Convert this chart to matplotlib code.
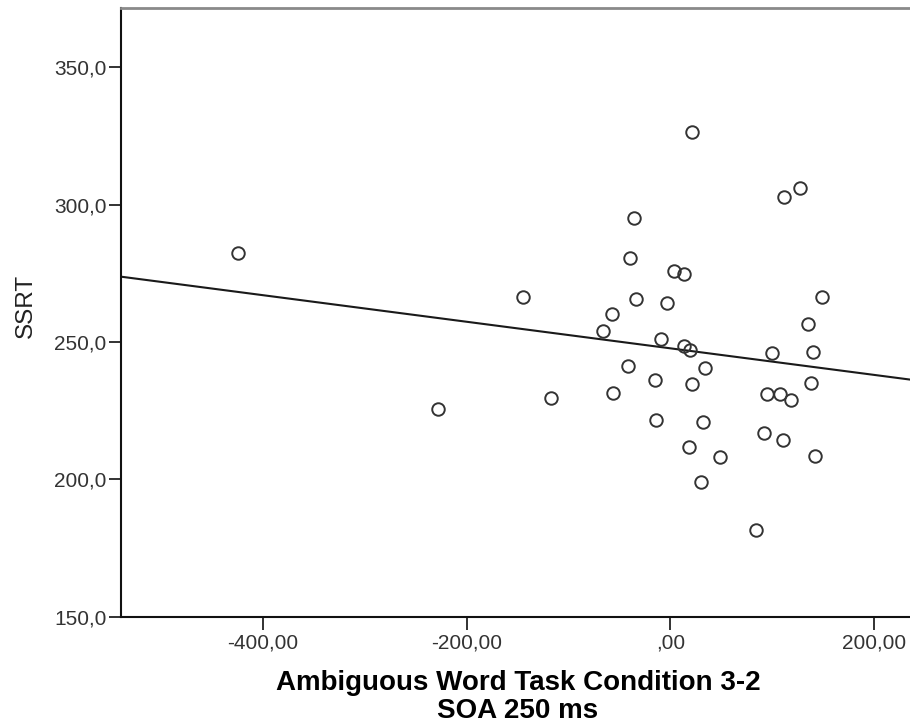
import numpy as np
import matplotlib
matplotlib.use('Agg')
import matplotlib.pyplot as plt

plt.rcParams["font.family"] = ["Liberation Sans", "DejaVu Sans"]

# data
ambig_diff = [-424.5, -228.5, -144.3, -117.5, -66.2, -57.3, -56.4, -41.6, -39.3, -35.7,
              -33.4, -14.7, -14.1, -8.8, -2.9, 3.2, 13.1, 13.4, 19.6, 21.6,
              21.2, 18.0, 34.0, 32.0, 30.4, 48.4, 83.8, 91.3, 94.6, 99.5,
              107.3, 110.6, 111.5, 118.1, 127.0, 134.5, 138.0, 140.0, 141.4, 148.3]
ssrt = [282.3, 225.6, 266.3, 229.5, 254.1, 260.1, 231.5, 241.3, 280.7, 295.2,
        265.7, 236.2, 221.6, 251.0, 264.1, 275.8, 274.6, 248.7, 247.1, 326.6,
        234.7, 211.7, 240.6, 221.0, 199.1, 208.2, 181.6, 216.8, 231.0, 245.9,
        231.1, 214.3, 302.9, 228.9, 306.0, 256.6, 234.9, 246.2, 208.6, 266.3]

# linear fit line as drawn (intercept, slope)
fit_b0 = 247.7
fit_b1 = -0.0484

xticks = [-400, -200, 0, 200]
xticklabels = ["-400,00", "-200,00", ",00", "200,00"]
yticks = [150, 200, 250, 300, 350]
yticklabels = ["150,0", "200,0", "250,0", "300,0", "350,0"]
xlims = (-539, 235)
ylims = (150, 371.6)

fig = plt.figure(figsize=(9.1, 7.26), dpi=100)
ax = fig.add_axes([121/910, 1-616.7/726, 1-121/910, (616.7-8)/726])

ax.plot(ambig_diff, ssrt, 'o', ms=9, mfc='none', mec='#333333', mew=1.4,
        linestyle='none', zorder=3)

xx = np.array(xlims)
ax.plot(xx, fit_b0 + fit_b1*xx, color='#1a1a1a', lw=1.5, zorder=2)

ax.set_xlim(*xlims)
ax.set_ylim(*ylims)
ax.set_xticks(xticks)
ax.set_xticklabels(xticklabels)
ax.set_yticks(yticks)
ax.set_yticklabels(yticklabels)
ax.tick_params(axis='both', direction='out', length=9, width=1.3,
               color='#222222', labelsize=15, labelcolor='#333333')
ax.tick_params(axis='y', pad=1.5)
ax.tick_params(axis='x', pad=3)

for s in ['left', 'bottom']:
    ax.spines[s].set_linewidth(1.5)
    ax.spines[s].set_color('#111111')
ax.spines['top'].set_color('#8a8a8a')
ax.spines['top'].set_linewidth(2)
ax.spines['right'].set_visible(False)

ax.set_ylabel("SSRT", fontsize=17.5, color='#222222')
ax.yaxis.set_label_coords(-0.107, 0.51)
ax.set_xlabel("Ambiguous Word Task Condition 3-2\nSOA 250 ms", fontsize=20,
              fontweight='bold', linespacing=1.08)
ax.xaxis.set_label_coords(0.503, -0.088)

plt.savefig('out.png', dpi=100)
